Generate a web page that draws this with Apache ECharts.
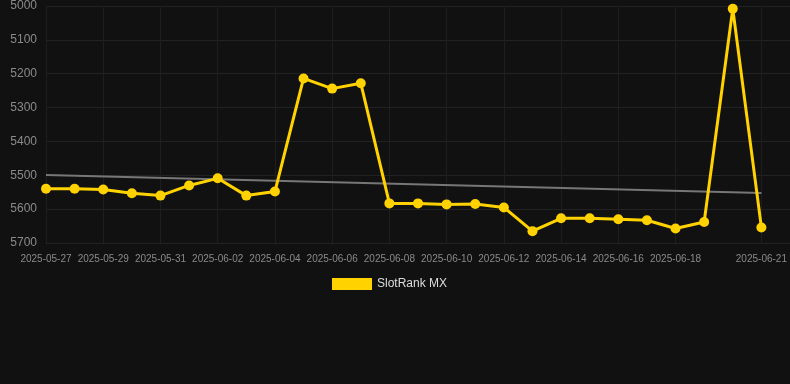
<!DOCTYPE html>
<html>
<head>
<meta charset="utf-8">
<script src="https://cdn.jsdelivr.net/npm/echarts@6/dist/echarts.min.js"></script>
<style>
  html, body { margin: 0; padding: 0; background: #111111; }
  #chart { width: 790px; height: 384px; }
</style>
</head>
<body>
<div id="chart"></div>
<script>
// dates, one per day
var dates = [
  '2025-05-27', '2025-05-28', '2025-05-29', '2025-05-30', '2025-05-31',
  '2025-06-01', '2025-06-02', '2025-06-03', '2025-06-04', '2025-06-05',
  '2025-06-06', '2025-06-07', '2025-06-08', '2025-06-09', '2025-06-10',
  '2025-06-11', '2025-06-12', '2025-06-13', '2025-06-14', '2025-06-15',
  '2025-06-16', '2025-06-17', '2025-06-18', '2025-06-19', '2025-06-20',
  '2025-06-21'
]
// rank values (lower is better, axis inverted)
var rankValues = [
  5540, 5540, 5542, 5553, 5560,
  5530, 5509, 5560, 5548, 5214,
  5244, 5228, 5583, 5583, 5586,
  5585, 5595, 5665, 5627, 5627,
  5630, 5633, 5657, 5638, 5008,
  5654
]
// trend line ends
var trendStart = 5499
var trendEnd = 5552
// labelled days
var labelIndexes = [0, 2, 4, 6, 8, 10, 12, 14, 16, 18, 20, 22, 25]

var myChart = echarts.init(document.getElementById('chart'))

// one empty slot after the last day so the plot runs to the right edge
var axisDays = dates.concat([''])

function showLabel(index) {
  return labelIndexes.indexOf(index) !== -1
}

var option = {
  backgroundColor: '#111111',
  animation: false,
  grid: {
    left: 46,
    right: 0,
    top: 6,
    bottom: 141
  },
  legend: {
    top: 273,
    left: 327,
    itemWidth: 40,
    itemHeight: 12,
    itemGap: 10,
    icon: 'rect',
    data: ['SlotRank MX'],
    textStyle: { color: '#dddddd', fontSize: 12 }
  },
  xAxis: {
    type: 'category',
    boundaryGap: false,
    data: axisDays,
    axisLine: { show: false },
    axisTick: { show: false },
    axisLabel: {
      interval: showLabel,
      color: '#8a8a8a',
      fontSize: 10,
      margin: 11
    },
    splitLine: {
      show: true,
      interval: showLabel,
      lineStyle: { color: '#1e1e1e', width: 1 }
    }
  },
  yAxis: {
    type: 'value',
    inverse: true,
    min: 5000,
    max: 5700,
    interval: 100,
    axisLine: { show: false },
    axisTick: { show: false },
    axisLabel: {
      color: '#8a8a8a',
      fontSize: 12,
      margin: 9,
      formatter: function (v) { return String(v) }
    },
    splitLine: { lineStyle: { color: '#222222', width: 1 } }
  },
  series: [
    {
      name: 'trend',
      type: 'line',
      data: [[0, trendStart], [dates.length - 1, trendEnd]],
      symbol: 'none',
      silent: true,
      lineStyle: { color: '#777777', width: 2 },
      z: 1
    },
    {
      name: 'SlotRank MX',
      type: 'line',
      data: rankValues,
      symbol: 'circle',
      symbolSize: 10,
      itemStyle: { color: '#ffd200' },
      lineStyle: { color: '#ffd200', width: 3 },
      z: 2
    }
  ]
}

myChart.setOption(option)
</script>
</body>
</html>
